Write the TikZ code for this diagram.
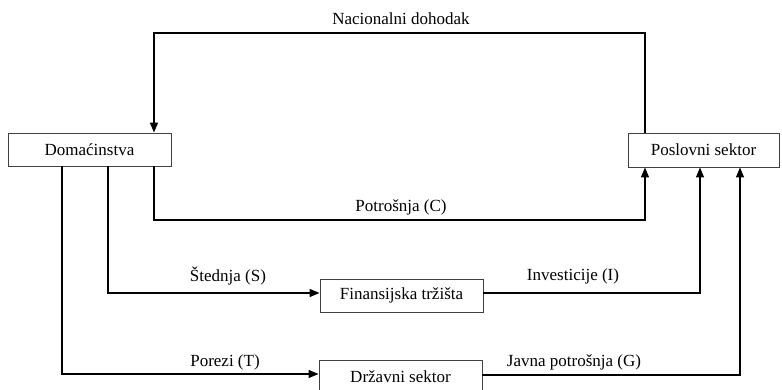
\documentclass[tikz,border=0pt]{standalone}
\usepackage{fontspec}
\setmainfont{Liberation Serif}
\usetikzlibrary{arrows.meta}
\begin{document}
\begin{tikzpicture}[x=1pt,y=-1pt,
  sector/.style={draw=black!75, line width=0.9pt, fill=white, inner sep=0pt,
    font=\fontsize{17}{19}\selectfont},
  flow/.style={line width=1.3pt, -{Triangle[length=10pt,width=8pt]}},
  lbl/.style={font=\fontsize{17}{19}\selectfont, inner sep=0pt}]
\useasboundingbox (0,0) rectangle (782,390);
% sectors
\node[sector, minimum width=163pt, minimum height=33pt] (dom) at (89.5,149.5) {Domaćinstva};
\node[sector, minimum width=151pt, minimum height=34pt] (pos) at (703.5,150) {Poslovni sektor};
\node[sector, minimum width=163pt, minimum height=33pt] (fin) at (401.5,295.5) {Finansijska tržišta};
\node[sector, minimum width=163pt, minimum height=33pt] (drz) at (400.5,376.5) {Državni sektor};
% helper corner points
\coordinate (t1) at (154,33);
\coordinate (t2) at (645,33);
% national income: business sector -> households
\draw[flow] (pos.north -| t2) |- (t1) -- (dom.north -| t1);
% consumption
\coordinate (c1) at (154,220);
\coordinate (c2) at (645,220);
\draw[flow] (dom.south -| c1) -- (c1) -- (c2) -- (pos.south -| c2);
% savings -> financial markets
\coordinate (s1) at (108,293);
\draw[flow] (dom.south -| s1) -- (s1) -- (fin.west |- s1);
% investment
\coordinate (i1) at (700,293);
\draw[flow] (fin.east |- i1) -- (i1) -- (pos.south -| i1);
% taxes -> government
\coordinate (p1) at (62,374);
\draw[flow] (dom.south -| p1) -- (p1) -- (drz.west |- p1);
% government spending
\coordinate (g1) at (740,375);
\draw[flow] (drz.east |- g1) -- (g1) -- (pos.south -| g1);
% labels
\node[lbl] (ln) at (401,19) {Nacionalni dohodak};
\node[lbl] (lc) at (401,207) {Potrošnja (C)};
\node[lbl] (ls) at (228,276) {Štednja (S)};
\node[lbl] (li) at (573,276) {Investicije (I)};
\node[lbl] (lt) at (225,362) {Porezi (T)};
\node[lbl] (lg) at (574,362) {Javna potrošnja (G)};
\end{tikzpicture}
\end{document}
